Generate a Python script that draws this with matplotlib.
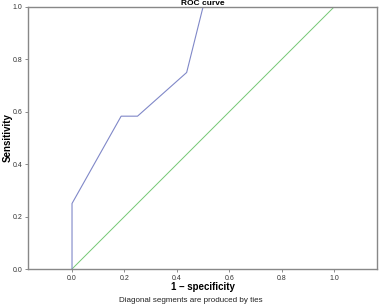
import numpy as np
import matplotlib
matplotlib.use("Agg")
import matplotlib.pyplot as plt

fpr = [0.0, 0.0, 0.1875, 0.25, 0.4375, 0.5]
tpr = [0.0, 0.25, 0.5833, 0.5833, 0.75, 1.0]
ref = [0.0, 1.0]
ticks = [0.0, 0.2, 0.4, 0.6, 0.8, 1.0]

plt.rcParams['font.family'] = ['Liberation Sans', 'DejaVu Sans']

fig = plt.figure(figsize=(3.82, 3.07), dpi=100)
ax = fig.add_axes([28/382, 1-269/307, 349/382, 262/307])

ax.plot(ref, ref, color='#74c874', lw=0.7)
ax.plot(fpr, tpr, color='#8088c8', lw=0.8)

ax.set_xlim(-0.168, 1.164)
ax.set_ylim(0, 1)
ax.set_xticks(ticks)
ax.set_yticks(ticks)
ax.set_xticklabels(["%.1f" % t for t in ticks])
ax.set_yticklabels(["%.1f" % t for t in ticks])
ax.tick_params(labelsize=5, length=2, width=0.6, color='#777777', pad=2, labelcolor='#333333')
for s in ax.spines.values():
    s.set_color('#888888')
    s.set_linewidth(1.0)

ax.set_title("ROC curve", fontsize=6, fontweight='bold', pad=0.5)
ax.set_xlabel("1 \u2013 specificity", fontsize=7, fontweight='bold', va='center')
ax.set_ylabel("Sensitivity", fontsize=7, fontweight='bold', va='center')
ax.xaxis.set_label_coords(0.5, -0.069)
ax.yaxis.set_label_coords(-0.057, 0.5)
fig.text(0.5, 1-301/307, "Diagonal segments are produced by ties", ha='center', va='center', fontsize=5.8, color='#222222')

fig.savefig("out.png", dpi=100)
